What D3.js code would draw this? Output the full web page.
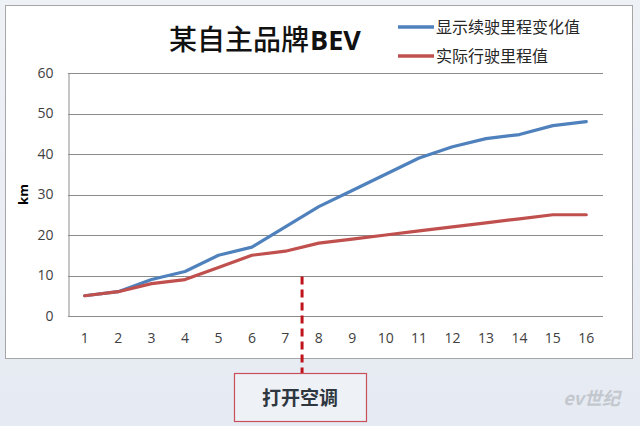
<!DOCTYPE html>
<html><head><meta charset="utf-8">
<script src="https://cdn.jsdelivr.net/npm/d3@7"></script>
<style>
html,body{margin:0;padding:0;background:#e8ecf3;}
svg{display:block;}
</style></head>
<body>
<svg id="c" width="640" height="426"></svg>
<script>
const categories = ["1","2","3","4","5","6","7","8","9","10","11","12","13","14","15","16"];
const displayedRange = [5,6,9,11,15,17,22,27,31,35,39,41.8,43.8,44.8,47,48];
const actualDistance = [5,6,8,9,12,15,16,18,19,20,21,22,23,24,25,25];
const yTicks = [0,10,20,30,40,50,60];
const seriesNames = ["显示续驶里程变化值","实际行驶里程值"];
const seriesColors = ["#4f81bd","#c0504d"];
const titleCJK = "某自主品牌";
const titleLatin = "BEV";
const yLabel = "km";
const annotation = "打开空调";
const annotationAt = 7.5; // between category 7 and 8

(function(){
const svg = d3.select("#c");
const cjk = "'Noto Sans CJK SC','Noto Sans',sans-serif";
const lat = "'Open Sans','DejaVu Sans',sans-serif";

const defs = svg.append("defs");
const g0 = defs.append("linearGradient").attr("id","bg").attr("x1",0).attr("x2",0).attr("y1",0).attr("y2",1);
g0.append("stop").attr("offset","0").attr("stop-color","#eef1f6");
g0.append("stop").attr("offset","1").attr("stop-color","#e6eaf2");
svg.append("rect").attr("width",640).attr("height",426).attr("fill","url(#bg)");

svg.append("rect").attr("x",5.5).attr("y",5.5).attr("width",627).attr("height",353)
  .attr("fill","#ffffff").attr("stroke","#a6a6a6").attr("stroke-width",1);

const pL = 68, pR = 603, pT = 73, pB = 316;
const x = d3.scaleBand().domain(categories).range([pL,pR]);
const y = d3.scaleLinear().domain([0,60]).range([pB,pT]);

svg.append("g").selectAll("line").data(yTicks).join("line")
  .attr("x1",pL).attr("x2",pR)
  .attr("y1",d=>Math.round(y(d))+0.5).attr("y2",d=>Math.round(y(d))+0.5)
  .attr("stroke","#8c8c8c").attr("stroke-width",1);

const ya = svg.append("g").attr("transform",`translate(${pL+0.5},0)`)
  .call(d3.axisLeft(y).tickValues(yTicks).tickSize(0).tickPadding(15));
ya.select(".domain").attr("stroke","#8c8c8c");
ya.selectAll("text").attr("font-family",lat).attr("font-size",14).attr("fill","#404040");

const xa = svg.append("g").attr("transform",`translate(0,${pB})`)
  .call(d3.axisBottom(x).tickSize(0).tickPadding(17));
xa.select(".domain").remove();
xa.selectAll("text").attr("font-family",lat).attr("font-size",14).attr("fill","#404040");

svg.append("text").attr("transform",`translate(28,${y(30)}) rotate(-90)`)
  .attr("text-anchor","middle").attr("font-family",lat).attr("font-weight","bold")
  .attr("font-size",13).attr("fill","#000").text(yLabel);

const line = d3.line().x((d,i)=>x(categories[i])+x.bandwidth()/2).y(d=>y(d));
[displayedRange, actualDistance].forEach((s,i)=>{
  svg.append("path").datum(s).attr("d",line).attr("fill","none")
    .attr("stroke",seriesColors[i]).attr("stroke-width",3.2)
    .attr("stroke-linejoin","round").attr("stroke-linecap","round");
});

const t = svg.append("text").attr("x",169).attr("y",50)
  .attr("font-size",28).attr("fill","#111");
t.append("tspan").attr("font-family",cjk).attr("font-weight",500).text(titleCJK);
t.append("tspan").attr("font-family",lat).attr("font-weight","bold").attr("font-size",27).attr("dx",1).text(titleLatin);

seriesNames.forEach((n,i)=>{
  const ly = 27 + i*29;
  svg.append("line").attr("x1",398).attr("x2",434).attr("y1",ly).attr("y2",ly)
    .attr("stroke",seriesColors[i]).attr("stroke-width",3.5);
  const tx = svg.append("text").attr("x",436).attr("y",ly+6).attr("font-family",cjk)
    .attr("font-size",16).attr("fill","#262626").text(n);
  const w = tx.node().getComputedTextLength();
  const target = 16*n.length;
  if (w > 0 && Math.abs(w-target) > 4) tx.attr("font-size", 16*target/w);
});

const ax = x("7")+x.bandwidth()/2 + x.step()*(annotationAt-7);
svg.append("line").attr("x1",ax).attr("x2",ax).attr("y1",y(10)+1).attr("y2",373)
  .attr("stroke","#c0141c").attr("stroke-width",3).attr("stroke-dasharray","8,5");

svg.append("rect").attr("x",234.5).attr("y",373.5).attr("width",132).attr("height",48)
  .attr("fill","#eef1f6").attr("stroke","#c8505a").attr("stroke-width",1.2);
svg.append("text").attr("x",300).attr("y",405).attr("text-anchor","middle")
  .attr("font-family",cjk).attr("font-weight","bold").attr("font-size",19)
  .attr("fill","#2e3640").text(annotation);

svg.append("text").attr("x",620).attr("y",405).attr("text-anchor","end")
  .attr("font-family",cjk).attr("font-style","italic").attr("font-weight","bold")
  .attr("font-size",18).attr("fill","#c3c7ce").text("ev世纪");
})();
</script>
</body></html>
